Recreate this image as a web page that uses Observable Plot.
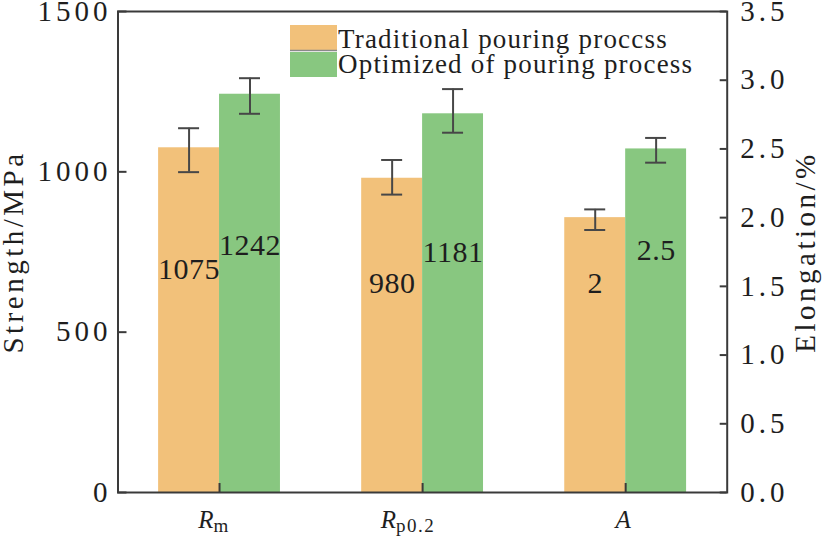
<!DOCTYPE html>
<html>
<head>
<meta charset="utf-8">
<script src="https://cdn.jsdelivr.net/npm/d3@7"></script>
<script src="https://cdn.jsdelivr.net/npm/@observablehq/plot@0.6"></script>
<style>
  html, body { margin: 0; padding: 0; background: #fff; }
  #chart svg, #chart svg text, #chart svg tspan { font-family: "Liberation Serif", "Times New Roman", serif !important; }
  #chart svg { color: #1e1e1e; }
  #chart g[aria-label="y-axis tick label"] text { letter-spacing: 4px; }
  #chart .ttl text { letter-spacing: 3.5px; }
  #chart .val text { letter-spacing: 0.5px; }
</style>
</head>
<body>
<div id="chart"></div>
<script>
// ---- data ----
const categories = ["Rm", "Rp0.2", "A"];
const units = ["MPa", "MPa", "%"];
const traditional = [1075, 980, 2];
const optimized = [1242, 1181, 2.5];
const tradLow = [999, 929, 1.91];
const tradHigh = [1136, 1037, 2.06];
const optLow = [1181, 1122, 2.40];
const optHigh = [1292, 1258, 2.58];
// heights (in each bar's own unit) at which the value labels sit
const tradLabelAt = [695, 652, 1.52];
const optLabelAt = [770, 748, 1.76];
const strengthTicks = [0, 500, 1000, 1500];
const elongTicks = [0, 0.5, 1.0, 1.5, 2.0, 2.5, 3.0, 3.5];
const seriesNames = ["Traditional pouring proccss", "Optimized of pouring process"];

// ---- layout ----
const W = 823, H = 539, mL = 117.5, mR = 96.3, mT = 11, mB = 47;
const plotW = W - mL - mR, plotH = H - mT - mB;
const k = 1500 / 3.5; // elongation -> strength-axis units
const step = plotW / categories.length;
const bw = step * 0.6, half = bw / 2, q = bw / 4, cap = 10.5;
const orange = "#F2C17A", green = "#88C780", ink = "#474747";
const serif = "Liberation Serif";

const toAxis = (v, i) => units[i] === "%" ? v * k : v;
const rows = (vals, lo, hi, la) => categories.map((c, i) => ({
  cat: c, value: vals[i], v: toAxis(vals[i], i),
  lo: toAxis(lo[i], i), hi: toAxis(hi[i], i), ly: toAxis(la[i], i)
}));
const trad = rows(traditional, tradLow, tradHigh, tradLabelAt);
const opt = rows(optimized, optLow, optHigh, optLabelAt);

const errMarks = (data, dx) => [
  Plot.ruleX(data, {x: "cat", y1: "lo", y2: "hi", dx, stroke: ink, strokeWidth: 2}),
  Plot.tickY(data, {x: "cat", y: "lo", dx, stroke: ink, strokeWidth: 2, insetLeft: half - cap, insetRight: half - cap}),
  Plot.tickY(data, {x: "cat", y: "hi", dx, stroke: ink, strokeWidth: 2, insetLeft: half - cap, insetRight: half - cap})
];

const plot = Plot.plot({
  width: W, height: H,
  marginLeft: mL, marginRight: mR, marginTop: mT, marginBottom: mB,
  style: {fontFamily: serif, fontSize: "29px", background: "#fff"},
  x: {type: "band", domain: categories, paddingInner: 0.4, paddingOuter: 0.2, round: false, axis: null},
  y: {domain: [0, 1500], axis: null},
  marks: [
    Plot.barY(trad, {x: "cat", y: "v", fill: orange, insetRight: half}),
    Plot.barY(opt, {x: "cat", y: "v", fill: green, insetLeft: half}),
    ...errMarks(trad, -q),
    ...errMarks(opt, q),
    Plot.text(trad, {x: "cat", y: "ly", dx: -q, text: d => String(d.value), fontSize: 30, fontFamily: serif, fill: "#1e1e1e", className: "val"}),
    Plot.text(opt, {x: "cat", y: "ly", dx: q, text: d => String(d.value), fontSize: 30, fontFamily: serif, fill: "#1e1e1e", className: "val"}),
    // inward ticks
    Plot.tickY(strengthTicks, {y: d => d, stroke: "#3a3a3a", strokeWidth: 2, insetRight: plotW - 9}),
    Plot.tickY(elongTicks, {y: d => d * k, stroke: "#3a3a3a", strokeWidth: 2, insetLeft: plotW - 7}),
    Plot.tickX(categories, {x: d => d, stroke: "#3a3a3a", strokeWidth: 2, insetTop: plotH - 9}),
    Plot.frame({stroke: "#3a3a3a", strokeWidth: 2}),
    // tick labels
    Plot.axisY(strengthTicks, {anchor: "left", tickSize: 0, tickPadding: 6.5, fontSize: 29, fontFamily: serif, label: null,
      tickFormat: d => String(d)}),
    Plot.axisY(elongTicks.map(e => e * k), {anchor: "right", tickSize: 0, tickPadding: 13, fontSize: 29, fontFamily: serif, label: null,
      tickFormat: d => (d / k).toFixed(1)}),
    // axis titles
    Plot.text(["Strength/MPa"], {frameAnchor: "left", textAnchor: "middle", text: d => d, rotate: -90, dx: -104, fontSize: 29, fontFamily: serif, fill: "#1e1e1e", className: "ttl"}),
    Plot.text(["Elongation/%"], {frameAnchor: "right", textAnchor: "middle", text: d => d, rotate: -90, dx: 79, fontSize: 29, fontFamily: serif, fill: "#1e1e1e", className: "ttl"})
  ]
});

document.getElementById("chart").appendChild(plot);

// ---- category labels with subscripts, and the legend ----
const svg = d3.select(plot);
const xs = plot.scale("x");
const labelParts = {
  "Rm": {main: "R", sub: "m", shift: -5},
  "Rp0.2": {main: "R", sub: "p0.2", shift: -14},
  "A": {main: "A", sub: "", shift: -2}
};
const gx = svg.append("g").attr("fill", "#1e1e1e").attr("font-family", serif);
categories.forEach(c => {
  const p = labelParts[c];
  const cx = xs.apply(c) + xs.bandwidth / 2 + p.shift;
  const t = gx.append("text").attr("x", cx).attr("y", 528).attr("text-anchor", "middle")
    .attr("font-size", 25);
  t.append("tspan").attr("font-style", "italic").text(p.main);
  if (p.sub) t.append("tspan").attr("font-size", 19).attr("dy", 4).attr("letter-spacing", 1.5).text(p.sub);
});

const lg = svg.append("g").attr("font-family", serif);
lg.append("rect").attr("x", 290).attr("y", 25).attr("width", 47).attr("height", 25).attr("fill", orange);
lg.append("line").attr("x1", 290).attr("x2", 337).attr("y1", 50.5).attr("y2", 50.5).attr("stroke", "#8a8a8a").attr("stroke-width", 1.5);
lg.append("rect").attr("x", 290).attr("y", 52).attr("width", 47).attr("height", 25).attr("fill", green);
seriesNames.forEach((s, i) => {
  lg.append("text").attr("x", 338).attr("y", i === 0 ? 48 : 73).attr("text-anchor", "start")
    .attr("font-size", 27).attr("letter-spacing", 1.2).attr("fill", "#1e1e1e").text(s);
});
</script>
</body>
</html>
